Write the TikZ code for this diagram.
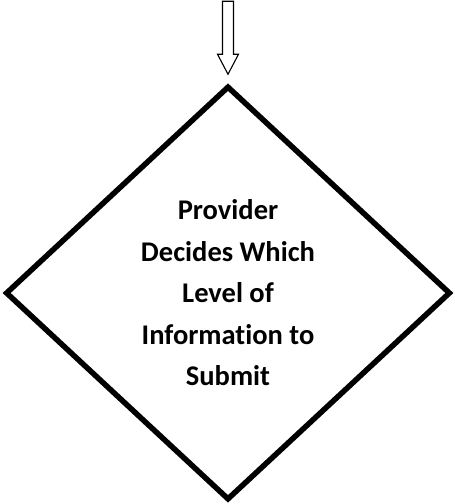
\documentclass[tikz,border=0pt]{standalone}
\usepackage{fontspec}
\setmainfont{Carlito}[Ligatures=NoCommon]
\usetikzlibrary{shapes.geometric}

\begin{document}
\begin{tikzpicture}[x=1pt,y=-1pt]
\tikzset{decision/.style = {shape=diamond,draw,line width=5.5pt,minimum width=445pt,minimum height=414pt,inner sep=0pt,align=center,font=\fontsize{28.5}{41.5}\selectfont\bfseries}}
\tikzset{blockarrow/.style = {draw,line width=1.1pt,fill=white}}
\useasboundingbox (0,0) rectangle (455,504);
% decision
\node[decision] (dec) at (228,293) {Provider\\Decides Which\\Level of\\Information to\\Submit};

% arrow into the decision
\coordinate (tip) at ([yshift=9pt]dec.north);
\draw[blockarrow] (tip) -- ++(-10.5,-20) -- ++(5,0) -- ++(0,-53) -- ++(11,0) -- ++(0,53) -- ++(5,0) -- cycle;
\end{tikzpicture}
\end{document}
